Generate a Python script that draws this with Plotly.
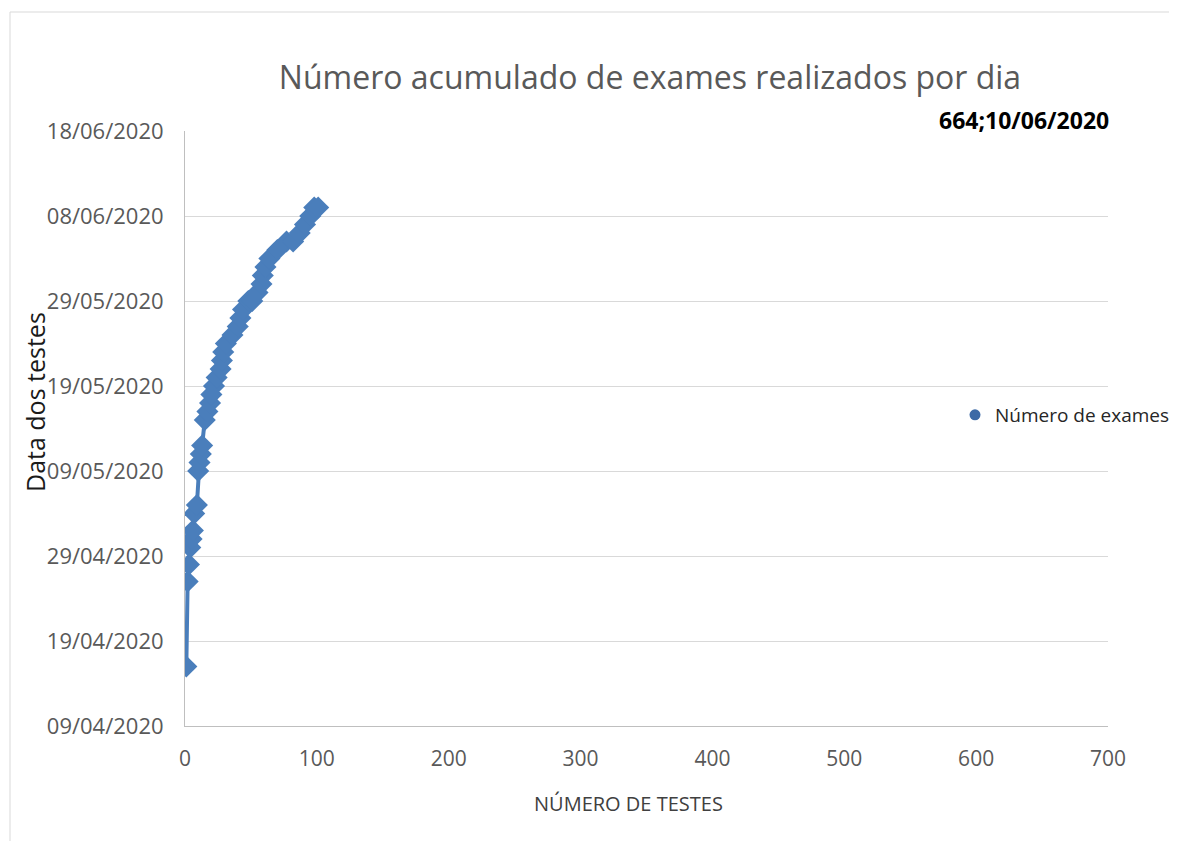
import plotly.graph_objects as go

dates = ["2020-04-16", "2020-04-26", "2020-04-28", "2020-04-30", "2020-05-01", "2020-05-02",
         "2020-05-04", "2020-05-05", "2020-05-09", "2020-05-10", "2020-05-11", "2020-05-12",
         "2020-05-15", "2020-05-16", "2020-05-17", "2020-05-18", "2020-05-19", "2020-05-20",
         "2020-05-21", "2020-05-22", "2020-05-23", "2020-05-24", "2020-05-25", "2020-05-26",
         "2020-05-27", "2020-05-28", "2020-05-29", "2020-05-29", "2020-05-30", "2020-05-31",
         "2020-06-01", "2020-06-02", "2020-06-03", "2020-06-04", "2020-06-05", "2020-06-05",
         "2020-06-06", "2020-06-07", "2020-06-08", "2020-06-09", "2020-06-09"]
exames = [1, 2, 3, 4, 5, 6,
          7, 9, 10, 11, 12, 13,
          15, 17, 19, 20, 22, 24,
          27, 28, 29, 31, 36, 40,
          42, 44, 48, 51, 55, 58,
          59, 61, 64, 70, 77, 82,
          87, 91, 95, 98, 101]

y_ticks = ["2020-04-09", "2020-04-19", "2020-04-29", "2020-05-09", "2020-05-19",
           "2020-05-29", "2020-06-08", "2020-06-18"]
y_tick_labels = ["09/04/2020", "19/04/2020", "29/04/2020", "09/05/2020", "19/05/2020",
                 "29/05/2020", "08/06/2020", "18/06/2020"]
x_ticks = [0, 100, 200, 300, 400, 500, 600, 700]

title = "Número acumulado de exames realizados por dia"
series_name = "Número de exames"
label_text = "664;10/06/2020"
x_title = "NÚMERO DE TESTES"
y_title = "Data dos testes"

blue = "#4A7EBB"
font = "Open Sans"

# page body has an 8px margin, so the figure is placed at (8, 8)
OFF = 8
W, H = 1177 - OFF, 841 - OFF
PL, PR, PT, PB = 185, 1108, 131, 726          # plot area in screen pixels
L, R, T, B = PL - OFF, (OFF + W) - PR, PT - OFF, (OFF + H) - PB
pw, ph = PR - PL, PB - PT


def px(xs):
    return (xs - PL) / pw


def py(ys):
    return (PB - ys) / ph


fig = go.Figure()
fig.add_trace(go.Scatter(
    x=exames, y=dates, mode="lines+markers",
    line=dict(color=blue, width=4),
    marker=dict(symbol="diamond", size=17, color=blue),
    showlegend=False,
))
fig.add_trace(go.Scatter(
    x=[None], y=[None], mode="markers", name=series_name,
    marker=dict(symbol="circle", size=11, color="#3C6AA6"),
))

fig.update_layout(
    width=W, height=H,
    margin=dict(l=L, r=R, t=T, b=B, autoexpand=False),
    paper_bgcolor="white", plot_bgcolor="white",
    font=dict(family=font, color="#595959", size=21),
    title=dict(text=title, x=(650 - OFF) / W, xanchor="center",
               y=1 - (78 - OFF) / H, yanchor="middle",
               font=dict(size=32, color="#595959", family=font)),
    xaxis=dict(range=[0, 700], tickvals=x_ticks, showgrid=False, zeroline=False,
               showline=True, linecolor="#BFBFBF", linewidth=1,
               ticks="", ticklabelstandoff=14, tickfont=dict(size=21, color="#595959")),
    yaxis=dict(type="date", range=["2020-04-09", "2020-06-18"],
               tickvals=y_ticks, ticktext=y_tick_labels,
               showgrid=True, gridcolor="#D9D9D9", gridwidth=1, zeroline=False,
               showline=True, linecolor="#BFBFBF", linewidth=1,
               ticks="", ticklabelstandoff=16, tickfont=dict(size=22, color="#595959")),
    legend=dict(xref="container", yref="container",
                x=(955 - OFF) / W, y=1 - (415 - OFF) / H, xanchor="left", yanchor="middle",
                font=dict(size=19, color="#262626"), bgcolor="rgba(0,0,0,0)",
                itemwidth=30),
    annotations=[
        dict(text="<b>" + label_text + "</b>", xref="paper", yref="paper",
             x=px(1111), y=py(120), xanchor="right", yanchor="middle",
             showarrow=False, font=dict(size=23, color="#000000", family=font)),
        dict(text=x_title, xref="paper", yref="paper",
             x=px(628), y=py(803), xanchor="center", yanchor="middle",
             showarrow=False, font=dict(size=20, color="#404040", family=font)),
        dict(text=y_title, xref="paper", yref="paper", textangle=-90,
             x=px(35), y=py(402), xanchor="center", yanchor="middle",
             showarrow=False, font=dict(size=25, color="#1A1A1A", family=font)),
    ],
    shapes=[
        dict(type="line", xref="paper", yref="paper", x0=px(10), x1=px(10),
             y0=py(12), y1=py(860), line=dict(color="#D9D9D9", width=1)),
        dict(type="line", xref="paper", yref="paper", x0=px(10), x1=px(1190),
             y0=py(12), y1=py(12), line=dict(color="#D9D9D9", width=1)),
    ],
)

fig.write_html("out.html")
